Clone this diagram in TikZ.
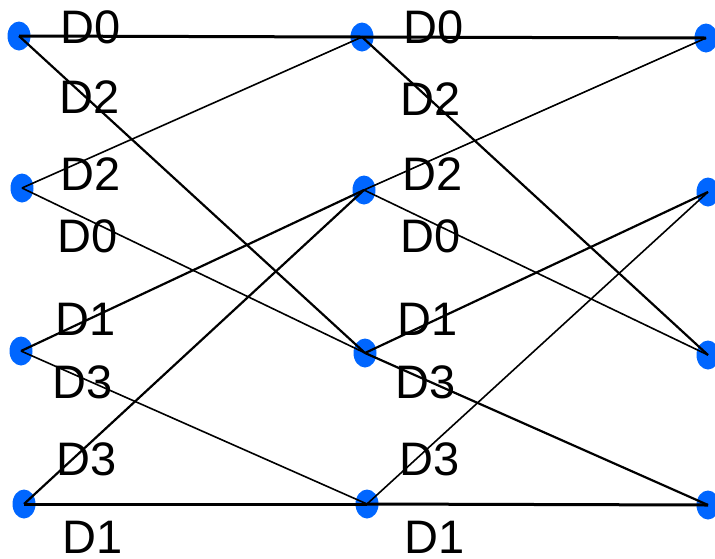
\documentclass[tikz,border=0pt]{standalone}
\usepackage{fontspec}
\setmainfont{Liberation Sans}
\definecolor{nodeblue}{RGB}{0,102,255}
\tikzset{
  dot/.style={ellipse, fill=nodeblue, minimum width=23pt, minimum height=29pt, inner sep=0pt},
  lbl/.style={anchor=base west, inner sep=0pt, font=\fontsize{47}{47}\selectfont},
  flat/.style={line width=3pt},
  thick diag/.style={line width=2.2pt},
  thin diag/.style={line width=1.6pt}
}
\usetikzlibrary{shapes.geometric}
\begin{document}
\begin{tikzpicture}[x=1pt,y=-1pt]
\useasboundingbox (0,0) rectangle (715,558);
% nodes: three columns of four
\node[dot] (n00) at (19,36) {};
\node[dot] (n01) at (22,188) {};
\node[dot] (n02) at (21,351) {};
\node[dot] (n03) at (24,504) {};
\node[dot] (n10) at (362,37) {};
\node[dot] (n11) at (364,190) {};
\node[dot] (n12) at (365,353) {};
\node[dot] (n13) at (367,504) {};
\node[dot] (n20) at (706,38) {};
\node[dot] (n21) at (708,192) {};
\node[dot] (n22) at (708,355) {};
\node[dot] (n23) at (708,505) {};
% first stage
\draw[flat] (n00.center) -- (n10.center);
\draw[thick diag] (n00.center) -- (n12.center);
\draw[thin diag] (n01.center) -- (n10.center);
\draw[thin diag] (n01.center) -- (n12.center);
\draw[thick diag] (n02.center) -- (n11.center);
\draw[thin diag] (n02.center) -- (n13.center);
\draw[thick diag] (n03.center) -- (n11.center);
\draw[flat] (n03.center) -- (n13.center);
% second stage
\draw[flat] (n10.center) -- (n20.center);
\draw[thick diag] (n10.center) -- (n22.center);
\draw[thin diag] (n11.center) -- (n20.center);
\draw[thin diag] (n11.center) -- (n22.center);
\draw[thick diag] (n12.center) -- (n21.center);
\draw[thick diag] (n12.center) -- (n23.center);
\draw[thin diag] (n13.center) -- (n21.center);
\draw[flat] (n13.center) -- (n23.center);
% labels, first stage
\node[lbl] (a0) at (60,43) {D0};
\node[lbl] (a1) at (59,113) {D2};
\node[lbl] (a2) at (60,190) {D2};
\node[lbl] (a3) at (57,252) {D0};
\node[lbl] (a4) at (55,335) {D1};
\node[lbl] (a5) at (52,398) {D3};
\node[lbl] (a6) at (56,475) {D3};
\node[lbl] (a7) at (62,553) {D1};
% labels, second stage
\node[lbl] (b0) at (403,43) {D0};
\node[lbl] (b1) at (400,115) {D2};
\node[lbl] (b2) at (402,190) {D2};
\node[lbl] (b3) at (400,252) {D0};
\node[lbl] (b4) at (397,335) {D1};
\node[lbl] (b5) at (395,398) {D3};
\node[lbl] (b6) at (399,475) {D3};
\node[lbl] (b7) at (404,553) {D1};
\end{tikzpicture}
\end{document}
